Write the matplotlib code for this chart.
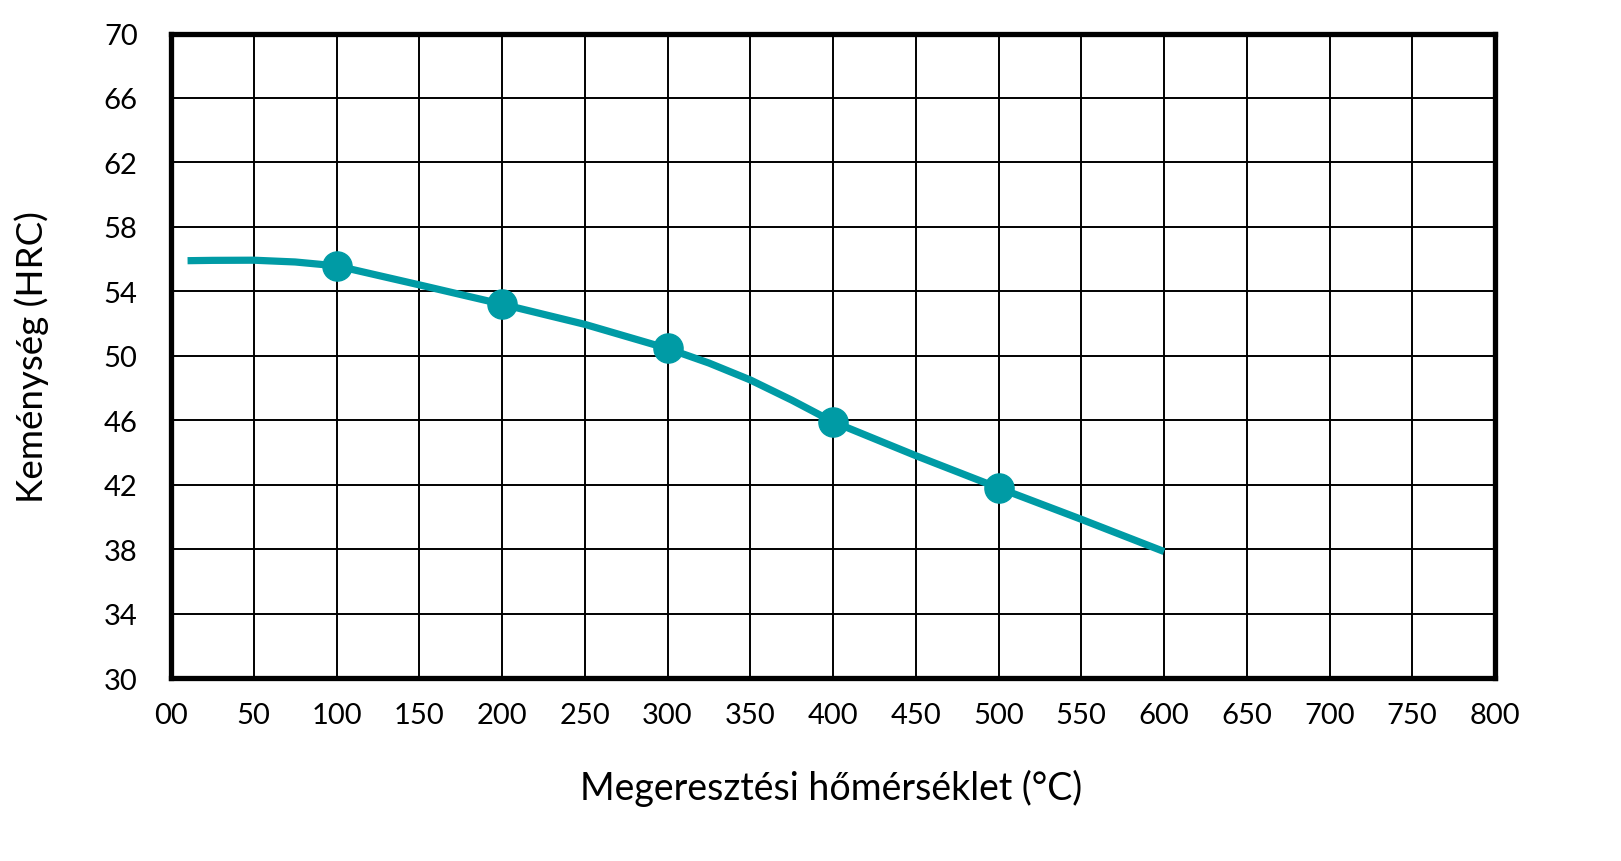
import matplotlib
matplotlib.use("Agg")
from matplotlib import pyplot as plt

# curve (tempering temperature -> hardness)
curve_temp = [10, 25, 50, 75, 100, 150, 200, 250, 300, 325, 350, 375, 400, 450, 500, 550, 600]
curve_hrc = [55.9, 55.92, 55.93, 55.82, 55.58, 54.4, 53.2, 51.95, 50.45, 49.55, 48.5, 47.25, 45.9, 43.8, 41.8, 39.85, 37.85]

# measured points shown as dots
point_temp = [100, 200, 300, 400, 500]
point_hrc = [55.58, 53.2, 50.45, 45.9, 41.8]

x_ticks = list(range(0, 801, 50))
x_labels = ["00"] + [str(v) for v in x_ticks[1:]]
y_ticks = list(range(30, 71, 4))

teal = "#009ba5"
W, H = 1621, 862

plt.rcParams["font.family"] = ["Lato", "DejaVu Sans"]

fig = plt.figure(figsize=(W / 100, H / 100), dpi=100)
left, right, top, bottom = 171, 1495, 34.5, 679
ax = fig.add_axes([left / W, 1 - bottom / H, (right - left) / W, (bottom - top) / H])

ax.set_xlim(0, 800)
ax.set_ylim(30, 70)
ax.set_xticks(x_ticks)
ax.set_xticklabels(x_labels)
ax.set_yticks(y_ticks)
ax.grid(True, color="black", linewidth=1.4)
ax.set_axisbelow(True)
for sp in ax.spines.values():
    sp.set_linewidth(3.8)
    sp.set_color("black")
ax.tick_params(axis="both", length=0, labelsize=21, colors="black")
ax.tick_params(axis="x", pad=17)
ax.tick_params(axis="y", pad=24)

ax.plot(curve_temp, curve_hrc, color=teal, linewidth=5.2,
        solid_joinstyle="round", solid_capstyle="butt", zorder=3)
ax.plot(point_temp, point_hrc, "o", color=teal, markersize=21, zorder=4)

fig.text(831 / W, 1 - 800 / H, "Megeresztési hőmérséklet (°C)",
         ha="center", va="baseline", fontsize=27)
fig.text(32 / W, 1 - 357 / H, "Keménység (HRC)", rotation=90,
         ha="center", va="center", fontsize=26.5)

fig.savefig("out.png", dpi=100)
